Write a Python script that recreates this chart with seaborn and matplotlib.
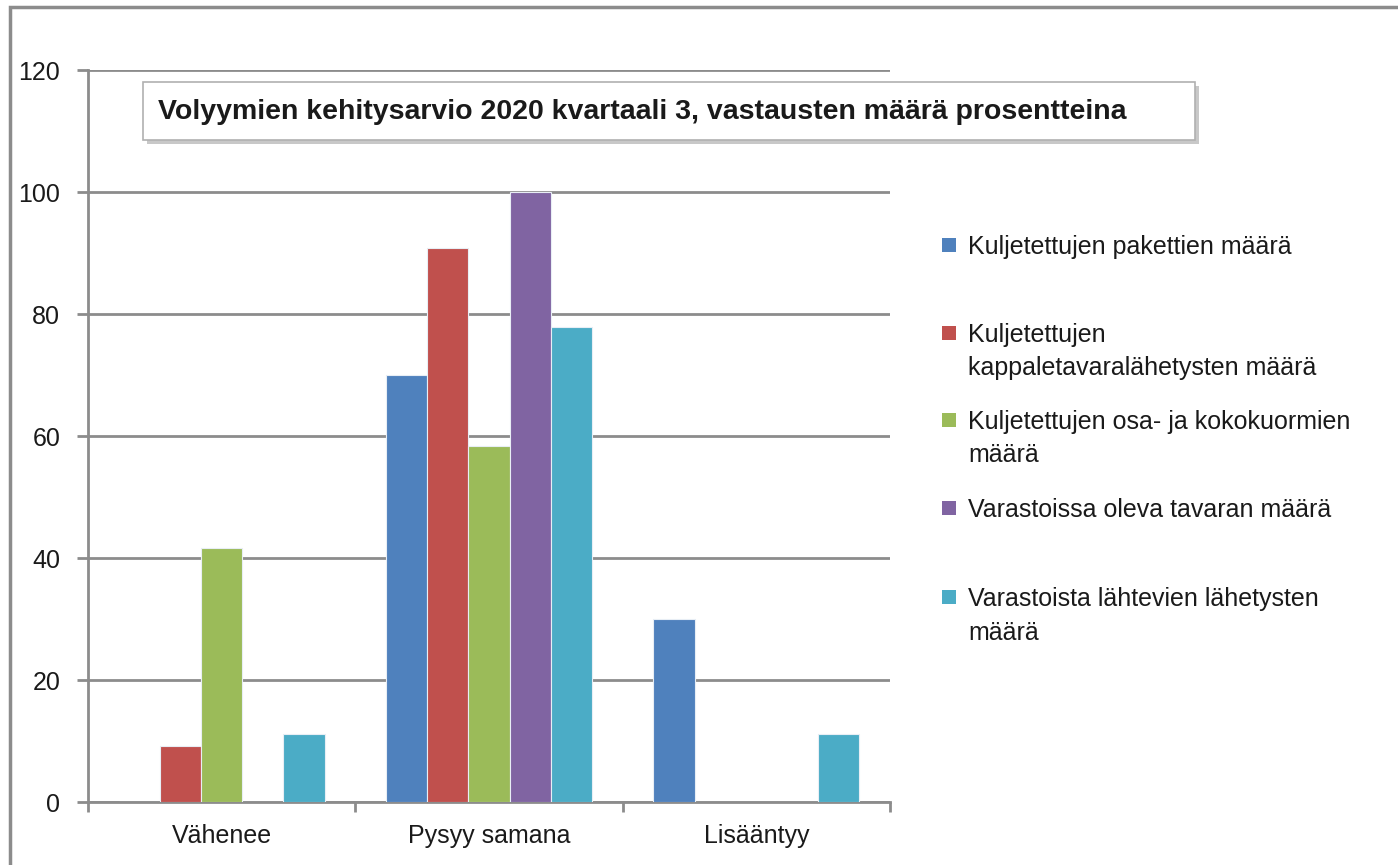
import pandas as pd
import matplotlib
matplotlib.use("Agg")
import matplotlib.pyplot as plt
import matplotlib.patches as mpatches
import seaborn as sns

# Data (percent of answers)
categories = ["Vähenee", "Pysyy samana", "Lisääntyy"]
series_names = [
    "Kuljetettujen pakettien määrä",
    "Kuljetettujen\nkappaletavaralähetysten määrä",
    "Kuljetettujen osa- ja kokokuormien\nmäärä",
    "Varastoissa oleva tavaran määrä",
    "Varastoista lähtevien lähetysten\nmäärä",
]
pakettien = [0, 70.0, 30.0]
kappaletavara = [9.1, 90.9, 0]
kuormat = [41.7, 58.3, 0]
varastoissa = [0, 100.0, 0]
varastoista = [11.1, 77.8, 11.1]
colors = ["#4F81BD", "#C0504D", "#9BBB59", "#8064A2", "#4BACC6"]

series_values = [pakettien, kappaletavara, kuormat, varastoissa, varastoista]
rows = []
for name, vals in zip(series_names, series_values):
    for cat, v in zip(categories, vals):
        rows.append({"kategoria": cat, "sarja": name, "arvo": v})
df = pd.DataFrame(rows)

sns.set_style("white")
plt.rcParams["font.family"] = ["Liberation Sans", "DejaVu Sans"]

W, H = 1398, 865
fig = plt.figure(figsize=(W / 100, H / 100), dpi=100)
ax = fig.add_axes([88 / W, 1 - 802 / H, (890 - 88) / W, (802 - 70) / H])

sns.barplot(data=df, x="kategoria", y="arvo", hue="sarja", order=categories,
            hue_order=series_names, palette=colors, saturation=1, width=0.77,
            ax=ax, edgecolor="#e8eef5", linewidth=0.8, legend=False, zorder=3)

grid_c = "#8c8c8c"
txt_c = "#1a1a1a"
ax.set_ylim(0, 120)
ax.set_xlim(-0.5, 2.5)
ax.set_yticks(range(0, 121, 20))
ax.yaxis.grid(True, color=grid_c, linewidth=2, zorder=0)
ax.set_axisbelow(True)
ax.set_xlabel("")
ax.set_ylabel("")
for s in ["top", "right"]:
    ax.spines[s].set_visible(False)
for s in ["left", "bottom"]:
    ax.spines[s].set_color(grid_c)
    ax.spines[s].set_linewidth(2)
ax.tick_params(axis="y", length=8, width=2, color=grid_c, pad=12,
               labelsize=18, labelcolor=txt_c, left=True)
ax.tick_params(axis="x", which="major", length=0, pad=16,
               labelsize=18, labelcolor=txt_c)
ax.set_xticks([-0.5, 0.5, 1.5, 2.5], minor=True)
ax.tick_params(axis="x", which="minor", length=7, width=2, color=grid_c, bottom=True)

# Title box with a soft shadow
bx0, by0, bx1, by1 = 143, 82, 1195, 140
shadow = mpatches.Rectangle(((bx0 + 4) / W, 1 - (by1 + 4) / H), (bx1 - bx0) / W,
                            (by1 - by0) / H, transform=fig.transFigure,
                            facecolor="#c8c8c8", edgecolor="none", zorder=4)
box = mpatches.Rectangle((bx0 / W, 1 - by1 / H), (bx1 - bx0) / W, (by1 - by0) / H,
                         transform=fig.transFigure, facecolor="white",
                         edgecolor="#b0b0b0", linewidth=1.2, zorder=5)
fig.patches.extend([shadow, box])
fig.text(158 / W, 1 - 112 / H,
         "Volyymien kehitysarvio 2020 kvartaali 3, vastausten määrä prosentteina",
         fontsize=20.5, fontweight="bold", color=txt_c, va="center", ha="left",
         zorder=6)

# Outer chart border
border = mpatches.Rectangle((10 / W, -0.05), 1.1, 1 - 7 / H + 0.05,
                            transform=fig.transFigure, facecolor="none",
                            edgecolor="#8c8c8c", linewidth=2.5)
fig.patches.append(border)

# Legend: square marker aligned with the first text line, like the original
legend_first_line_y = [245, 333, 420, 508, 597]
for name, c, y in zip(series_names, colors, legend_first_line_y):
    fig.patches.append(mpatches.Rectangle((942 / W, 1 - (y + 7) / H), 14 / W, 14 / H,
                                          transform=fig.transFigure,
                                          facecolor=c, edgecolor="none"))
    fig.text(968 / W, 1 - (y - 10) / H, name, fontsize=18, color=txt_c,
             va="top", ha="left", linespacing=1.5)

fig.savefig("out.png", dpi=100)
